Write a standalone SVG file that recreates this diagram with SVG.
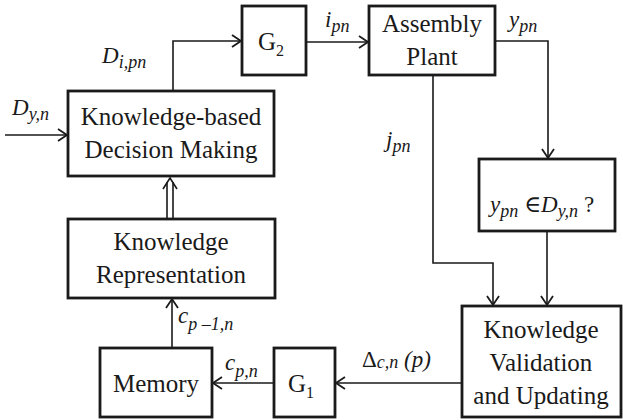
<svg xmlns="http://www.w3.org/2000/svg" width="623" height="420" viewBox="0 0 623 420">
<style>
.box{fill:#fff;stroke:#1a1a1a;stroke-width:2.8}
text{font-family:'Liberation Serif','Times New Roman','DejaVu Serif',serif;fill:#1a1a1a}
.t{font-size:25px;text-anchor:middle}
.l{font-size:23px;font-style:italic}
.s{font-size:18px}
.g{font-size:16px}
.c{fill:none;stroke:#1a1a1a;stroke-width:1.6}
</style>
<defs>
<marker id="ah" markerUnits="userSpaceOnUse" markerWidth="14" markerHeight="14" refX="11" refY="7" orient="auto">
<path d="M2,1 L11,7 L2,13" fill="none" stroke="#1a1a1a" stroke-width="1.8"/>
</marker>
</defs>
<g id="connectors">
<path class="c" d="M5,135 H67" marker-end="url(#ah)"/>
<path class="c" d="M173,91 V41 H241" marker-end="url(#ah)"/>
<path class="c" d="M306,42 H368" marker-end="url(#ah)"/>
<path class="c" d="M495,41 H548 V158" marker-end="url(#ah)"/>
<path class="c" d="M433,75 V263 H493 V305" marker-end="url(#ah)"/>
<path class="c" d="M547,231 V305" marker-end="url(#ah)"/>
<path class="c" d="M462,383 H336" marker-end="url(#ah)"/>
<path class="c" d="M274,383 H213" marker-end="url(#ah)"/>
<path class="c" d="M172,348 V299" marker-end="url(#ah)"/>
<path class="c" d="M167,219 V182 M173,219 V182"/>
<path class="c" d="M163,189 L170,178 L177,189" stroke-width="1.8"/>
<text class="l" x="12" y="115">D<tspan class="s" dy="5">y,n</tspan></text>
<text class="l" x="102" y="63">D<tspan class="s" dy="5">i,pn</tspan></text>
<text class="l" x="325" y="27">i<tspan class="s" dy="5">pn</tspan></text>
<text class="l" x="509" y="27">y<tspan class="s" dy="5">pn</tspan></text>
<text class="l" x="386" y="147">j<tspan class="s" dy="5">pn</tspan></text>
<text class="l" x="178" y="323">c<tspan class="s" dy="7">p –1,n</tspan></text>
<text class="l" x="225" y="370">c<tspan class="s" dy="7">p,n</tspan></text>
<text class="l" x="362" y="367"><tspan font-style="normal">Δ</tspan><tspan class="s" dy="1">c,n</tspan><tspan dy="-1"> (p)</tspan></text>
</g>
<g id="kbdm">
<rect class="box" x="68" y="91" width="206" height="85"/>
<text class="t" x="171" y="125">Knowledge-based</text>
<text class="t" x="171" y="158">Decision Making</text>
</g>
<g id="g2">
<rect class="box" x="242" y="6" width="64" height="69"/>
<text class="t" x="271" y="50">G<tspan class="g" dy="6">2</tspan></text>
</g>
<g id="plant">
<rect class="box" x="369" y="6" width="126" height="69"/>
<text class="t" x="432" y="32">Assembly</text>
<text class="t" x="432" y="65">Plant</text>
</g>
<g id="check">
<rect class="box" x="479" y="159" width="136" height="72"/>
<text class="l" x="490" y="212">y<tspan class="s" dy="5">pn</tspan><tspan dy="-5" font-style="normal"> ∈</tspan>D<tspan class="s" dy="5">y,n</tspan><tspan dy="-5" font-style="normal"> ?</tspan></text>
</g>
<g id="kvu">
<rect class="box" x="462" y="306" width="159" height="111"/>
<text class="t" x="541" y="338">Knowledge</text>
<text class="t" x="541" y="371">Validation</text>
<text class="t" x="541" y="404">and Updating</text>
</g>
<g id="kr">
<rect class="box" x="68" y="219" width="207" height="79"/>
<text class="t" x="171" y="250">Knowledge</text>
<text class="t" x="171" y="283">Representation</text>
</g>
<g id="memory">
<rect class="box" x="100" y="348" width="112" height="69"/>
<text class="t" x="156" y="392">Memory</text>
</g>
<g id="g1">
<rect class="box" x="274" y="348" width="61" height="69"/>
<text class="t" x="301" y="392">G<tspan class="g" dy="6">1</tspan></text>
</g>
</svg>
